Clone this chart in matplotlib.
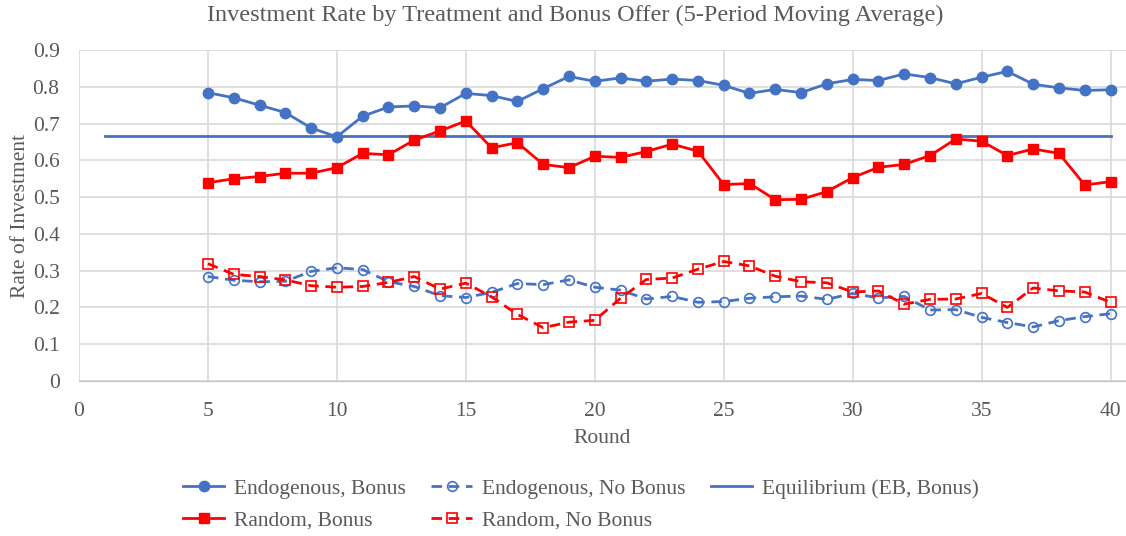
import matplotlib.pyplot as plt
import numpy as np

plt.rcParams['font.family'] = ['Liberation Serif', 'DejaVu Serif']

rounds = np.arange(5, 41)

endog_bonus = [0.784, 0.770, 0.750, 0.730, 0.688, 0.664, 0.720, 0.745, 0.748, 0.743,
               0.782, 0.776, 0.760, 0.795, 0.828, 0.815, 0.824, 0.815, 0.821, 0.817,
               0.804, 0.782, 0.793, 0.784, 0.808, 0.820, 0.817, 0.835, 0.825, 0.808,
               0.826, 0.842, 0.807, 0.797, 0.790, 0.792]
random_bonus = [0.539, 0.550, 0.556, 0.565, 0.565, 0.580, 0.619, 0.615, 0.655, 0.680,
                0.707, 0.634, 0.648, 0.589, 0.580, 0.611, 0.608, 0.624, 0.644, 0.625,
                0.534, 0.537, 0.493, 0.494, 0.515, 0.553, 0.581, 0.589, 0.613, 0.658,
                0.652, 0.613, 0.631, 0.619, 0.533, 0.542]
endog_nobonus = [0.284, 0.274, 0.270, 0.271, 0.298, 0.308, 0.303, 0.270, 0.257, 0.232,
                 0.227, 0.241, 0.265, 0.262, 0.275, 0.255, 0.247, 0.223, 0.230, 0.214,
                 0.216, 0.225, 0.229, 0.231, 0.222, 0.238, 0.226, 0.230, 0.193, 0.194,
                 0.173, 0.159, 0.147, 0.164, 0.175, 0.183]
random_nobonus = [0.319, 0.290, 0.284, 0.275, 0.259, 0.255, 0.257, 0.268, 0.284, 0.250,
                  0.266, 0.229, 0.181, 0.145, 0.160, 0.165, 0.225, 0.276, 0.280, 0.304,
                  0.325, 0.313, 0.285, 0.270, 0.267, 0.242, 0.245, 0.209, 0.222, 0.223,
                  0.238, 0.200, 0.253, 0.245, 0.242, 0.214]
eq_rounds = [1, 40]
eq_value = [0.667, 0.667]

blue = '#4472C4'
red = '#FF0000'
grey = '#595959'

fig = plt.figure(figsize=(11.26, 5.36), dpi=100)
ax = fig.add_axes([79 / 1126, 155 / 536, 1 - 79 / 1126, 331 / 536])

dash = (0, (3.8, 2.4))
l1, = ax.plot(rounds, endog_bonus, color=blue, lw=2.0, marker='o', ms=7.5,
              label='Endogenous, Bonus')
l2, = ax.plot(rounds, endog_nobonus, color=blue, lw=2.0, ls=dash, marker='o',
              ms=7, mfc='none', mew=1.2, label='Endogenous, No Bonus')
l3, = ax.plot(eq_rounds, eq_value, color=blue, lw=2.0, label='Equilibrium (EB, Bonus)')
l4, = ax.plot(rounds, random_bonus, color=red, lw=2.0, marker='s', ms=7.5,
              label='Random, Bonus')
l5, = ax.plot(rounds, random_nobonus, color=red, lw=2.0, ls=dash, marker='s',
              ms=7, mfc='none', mew=1.2, label='Random, No Bonus')

ax.set_xlim(0, 40.6)
ax.set_ylim(0, 0.9)
ax.set_xticks(np.arange(0, 41, 5))
ax.set_yticks(np.arange(0, 0.91, 0.1))
ax.set_yticklabels(['0'] + [f'{v:.1f}' for v in np.arange(0.1, 0.91, 0.1)])
ax.grid(True, color='#D9D9D9', lw=1.2)
ax.set_axisbelow(True)
for s in ['top', 'right', 'left']:
    ax.spines[s].set_visible(False)
ax.spines['bottom'].set_color('#BFBFBF')
ax.tick_params(axis='y', length=0, labelsize=15.5, colors=grey, pad=14)
ax.tick_params(axis='x', length=0, labelsize=15.5, colors=grey, pad=15)

ax.set_xlabel('Round', fontsize=15.5, color=grey, labelpad=6)
ax.set_ylabel('Rate of Investment', fontsize=15.5, color=grey, labelpad=2)
fig.text(0.511, 0.972, 'Investment Rate by Treatment and Bonus Offer (5-Period Moving Average)',
         ha='center', va='center', fontsize=17.5, color=grey)

fig.legend(handles=[l1, l4, l2, l5, l3], ncol=3, loc='center', bbox_to_anchor=(0.516, 0.058),
           frameon=False, fontsize=15.5, labelcolor=grey, handlelength=1.9,
           columnspacing=1.2, handletextpad=0.45, labelspacing=0.55, borderpad=0)

fig.savefig('out.png', dpi=100)
